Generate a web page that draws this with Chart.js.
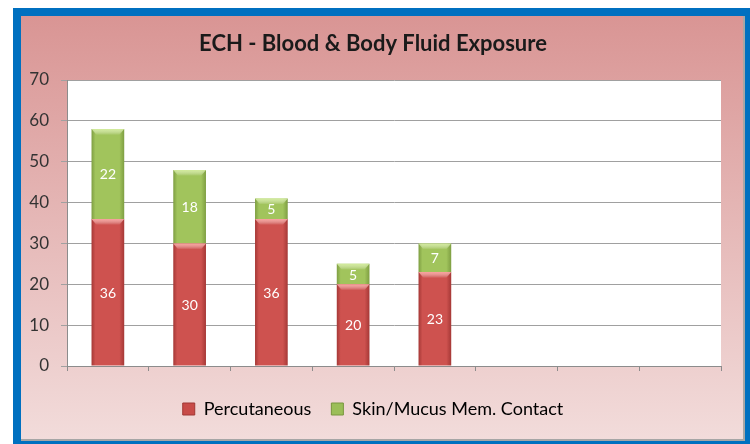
<!DOCTYPE html>
<html lang="en">
<head>
  <meta charset="UTF-8" />
  <title>ECH - Blood & Body Fluid Exposure</title>
  <script src="https://cdn.jsdelivr.net/npm/chart.js"></script>
  <style>
    html, body { margin: 0; padding: 0; background: #ffffff; }
    #wrap { width: 750px; height: 444px; }
  </style>
</head>
<body>
  <div id="wrap"><canvas id="chart" width="750" height="444"></canvas></div>

  <script>
    // data
    const categories = ['', '', '', '', '', '', '', ''];
    const percutaneous = [36, 30, 36, 20, 23, null, null, null];
    const skinMucus = [22, 18, 5, 5, 7, null, null, null];
    const yTicks = [0, 10, 20, 30, 40, 50, 60, 70];

    const FONT = 'Lato, "Open Sans", sans-serif';
    const BAR_PCT = 0.4;

    // bevelled look: darker edges, lighter middle
    function barFill(mid, edge) {
      return function (c) {
        const chart = c.chart;
        const xs = chart.scales && chart.scales.x;
        if (!chart.chartArea || !xs || c.dataIndex === undefined) return mid;
        const cx = xs.getPixelForValue(c.dataIndex);
        const half = (xs.width / categories.length) * BAR_PCT / 2;
        const g = chart.ctx.createLinearGradient(cx - half, 0, cx + half, 0);
        g.addColorStop(0, edge);
        g.addColorStop(0.12, mid);
        g.addColorStop(0.85, mid);
        g.addColorStop(1, edge);
        return g;
      };
    }

    const backdrop = {
      id: 'backdrop',
      beforeDraw(chart) {
        const { ctx, width, height, chartArea } = chart;
        ctx.save();
        ctx.fillStyle = '#0070c0';
        ctx.fillRect(13, 8, width - 13, height - 8);
        ctx.fillStyle = '#a6a6a6';
        ctx.fillRect(21, 16, 724, 425);
        const g = ctx.createLinearGradient(0, 16, 0, 440);
        g.addColorStop(0, 'rgb(217,149,148)');
        g.addColorStop(1, 'rgb(242,220,219)');
        ctx.fillStyle = g;
        ctx.fillRect(21, 16, 722, 423);
        ctx.fillStyle = '#ffffff';
        ctx.fillRect(chartArea.left, chartArea.top,
          chartArea.right - chartArea.left, chartArea.bottom - chartArea.top);
        ctx.restore();
      }
    };

    const segLabels = {
      id: 'segLabels',
      afterDatasetsDraw(chart) {
        const { ctx } = chart;
        ctx.save();
        chart.data.datasets.forEach((ds, di) => {
          const meta = chart.getDatasetMeta(di);
          const light = di === 0 ? 'rgba(255,170,165,0.9)' : 'rgba(215,240,160,0.9)';
          meta.data.forEach((bar, i) => {
            const v = ds.data[i];
            if (v == null) return;
            const p = bar.getProps(['x', 'y', 'base', 'width'], true);
            // top bevel highlight
            const hg = ctx.createLinearGradient(0, p.y, 0, p.y + 6);
            hg.addColorStop(0, light);
            hg.addColorStop(1, 'rgba(255,255,255,0)');
            ctx.fillStyle = hg;
            ctx.beginPath();
            ctx.moveTo(p.x - p.width / 2, p.y);
            ctx.lineTo(p.x + p.width / 2, p.y);
            ctx.lineTo(p.x + p.width / 2 - 5, p.y + 6);
            ctx.lineTo(p.x - p.width / 2 + 5, p.y + 6);
            ctx.closePath();
            ctx.fill();
            // value
            ctx.fillStyle = '#ffffff';
            ctx.font = '14px ' + FONT;
            ctx.textAlign = 'center';
            ctx.textBaseline = 'middle';
            ctx.fillText(String(v), p.x, (p.y + p.base) / 2 + 1);
          });
        });
        ctx.restore();
      }
    };

    new Chart(document.getElementById('chart'), {
      type: 'bar',
      data: {
        labels: categories,
        datasets: [
          {
            label: 'Percutaneous',
            data: percutaneous,
            backgroundColor: barFill('rgb(206,82,79)', 'rgb(165,56,54)'),
            borderWidth: 0,
            stack: 's'
          },
          {
            label: 'Skin/Mucus Mem. Contact',
            data: skinMucus,
            backgroundColor: barFill('rgb(161,196,92)', 'rgb(126,158,66)'),
            borderWidth: 0,
            stack: 's'
          }
        ]
      },
      options: {
        responsive: false,
        animation: false,
        devicePixelRatio: 1,
        layout: { padding: { left: 25, right: 29, top: 16, bottom: 16 } },
        datasets: { bar: { barPercentage: BAR_PCT, categoryPercentage: 1 } },
        plugins: {
          title: {
            display: true,
            text: 'ECH - Blood & Body Fluid Exposure',
            color: '#1a1a1a',
            font: { family: FONT, size: 22, weight: 'bold', lineHeight: 1.2 },
            padding: { top: 14.8, bottom: 22.8 }
          },
          legend: {
            position: 'bottom',
            labels: {
              color: '#262626',
              font: { family: FONT, size: 18 },
              boxWidth: 12,
              boxHeight: 12,
              padding: 20,
              generateLabels(chart) {
                return chart.data.datasets.map((ds, i) => ({
                  text: ds.label,
                  fillStyle: i === 0 ? 'rgb(200,75,72)' : 'rgb(155,190,88)',
                  strokeStyle: i === 0 ? 'rgb(160,55,52)' : 'rgb(120,150,62)',
                  lineWidth: 1,
                  datasetIndex: i
                }));
              }
            }
          },
          tooltip: { enabled: false }
        },
        scales: {
          x: {
            stacked: true,
            afterFit(s) { s.height = 14; },
            ticks: { display: false },
            grid: {
              display: true,
              offset: true,
              drawOnChartArea: false,
              drawTicks: true,
              tickLength: 5,
              color: '#8c8c8c'
            },
            border: { display: true, color: '#8c8c8c', width: 1 }
          },
          y: {
            stacked: true,
            min: 0,
            max: 70,
            afterFit(s) { s.width = 42; },
            afterBuildTicks(s) { s.ticks = yTicks.map(v => ({ value: v })); },
            ticks: {
              color: '#333333',
              font: { family: FONT, size: 17 },
              padding: 12
            },
            grid: { color: '#a0a0a0', lineWidth: 1, tickLength: 6 },
            border: { display: true, color: '#8c8c8c', width: 1 }
          }
        }
      },
      plugins: [backdrop, segLabels]
    });
  </script>
</body>
</html>
